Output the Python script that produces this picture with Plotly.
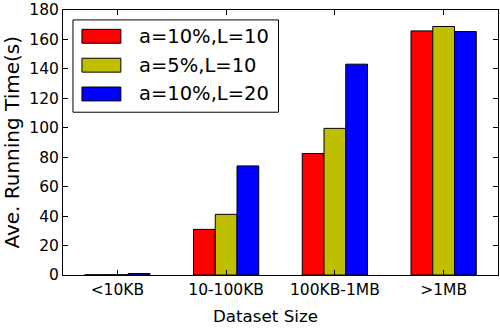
import plotly.graph_objects as go

categories = ["<10KB", "10-100KB", "100KB-1MB", ">1MB"]
series_names = ["a=10%,L=10", "a=5%,L=10", "a=10%,L=20"]
vals_a10_l10 = [0.15, 31, 82.5, 165.8]
vals_a5_l10 = [0.2, 41.2, 99.6, 168.8]
vals_a10_l20 = [1.0, 74.1, 143.2, 165.4]
colors = ["#ff0000", "#bfbf00", "#0000ff"]
y_ticks = [0, 20, 40, 60, 80, 100, 120, 140, 160, 180]

W, H = 500, 329
ML, MR, MT, MB = 63, 1, 8, 54
PW, PH = W - ML - MR, H - MT - MB

def px_x(px):
    return (px - ML) / PW

def px_y(py):
    return (H - MB - py) / PH

FONT = "DejaVu Sans"
fig = go.Figure()
for name, vals, col in zip(series_names, [vals_a10_l10, vals_a5_l10, vals_a10_l20], colors):
    fig.add_trace(go.Bar(x=list(range(len(categories))), y=vals, name=name,
                         marker=dict(color=col, line=dict(color="black", width=1)),
                         showlegend=False))

axis_common = dict(showline=True, linecolor="black", linewidth=1, mirror="ticks",
                   ticks="inside", ticklen=5, tickcolor="black", tickwidth=1,
                   showgrid=False, zeroline=False, ticklabeloverflow="allow",
                   tickfont=dict(family=FONT, size=15.5, color="black"))

fig.update_layout(
    width=W, height=H, margin=dict(l=ML, r=MR, t=MT, b=MB),
    plot_bgcolor="white", paper_bgcolor="white",
    barmode="group", bargap=0.4, bargroupgap=0,
    xaxis=dict(range=[-0.5, 3.5], tickmode="array", tickvals=list(range(len(categories))),
               ticktext=categories, **axis_common),
    yaxis=dict(range=[0, 180], tickmode="array", tickvals=y_ticks, **axis_common),
    font=dict(family=FONT, color="black"),
)

annotations = [
    dict(text="Dataset Size", xref="paper", yref="paper", x=px_x(266), y=px_y(316),
         xanchor="center", yanchor="middle", showarrow=False,
         font=dict(family=FONT, size=16.7, color="black")),
    dict(text="Ave. Running Time(s)", xref="paper", yref="paper", x=px_x(11), y=0.5,
         xanchor="center", yanchor="middle", showarrow=False, textangle=-90,
         font=dict(family=FONT, size=20, color="black")),
]
shapes = [dict(type="rect", xref="paper", yref="paper", x0=px_x(73), x1=px_x(279),
               y0=px_y(111), y1=px_y(18), line=dict(color="black", width=1),
               fillcolor="white", layer="above")]
row_centers = [34.5, 63.6, 92.6]
for name, col, cy in zip(series_names, colors, row_centers):
    shapes.append(dict(type="rect", xref="paper", yref="paper", x0=px_x(82), x1=px_x(121),
                       y0=px_y(cy + 7), y1=px_y(cy - 7), line=dict(color="black", width=1),
                       fillcolor=col, layer="above"))
    annotations.append(dict(text=name, xref="paper", yref="paper", x=px_x(137), y=px_y(cy),
                            xanchor="left", yanchor="middle", showarrow=False,
                            font=dict(family=FONT, size=19.5, color="black")))
fig.update_layout(shapes=shapes, annotations=annotations)
fig.write_html("out.html", config={"displayModeBar": False},
               post_script="document.body.style.margin='0';document.body.style.overflow='hidden';")
